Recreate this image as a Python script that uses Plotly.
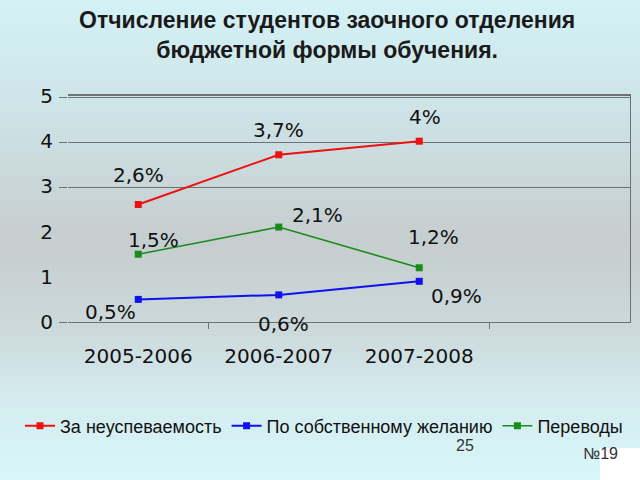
import plotly.graph_objects as go

categories = ["2005-2006", "2006-2007", "2007-2008"]
series_names = ["За неуспеваемость", "По собственному желанию", "Переводы"]
fail_vals = [2.6, 3.7, 4.0]
wish_vals = [0.5, 0.6, 0.9]
transfer_vals = [1.5, 2.1, 1.2]
fail_labels = ["2,6%", "3,7%", "4%"]
wish_labels = ["0,5%", "0,6%", "0,9%"]
transfer_labels = ["1,5%", "2,1%", "1,2%"]
y_ticks = [0, 1, 2, 3, 4, 5]

# label placement offsets (px) -- style only
fail_off = [(0, 29), (0, 25), (6, 24)]
wish_off = [(-28, -13), (5, -29), (37, -15)]
transfer_off = [(15, 14), (39, 12), (14, 31)]

colors = ["#ee1111", "#1111ee", "#1a8a1a"]

L, R, T, B = 68, 630, 96, 322
W, H = 640, 480
PH = B - T

def py2paper(py):
    return (B - py) / PH

def px2paper(px):
    return (px - L) / (R - L)

xs = list(range(len(categories)))

fig = go.Figure()
for name, vals, col, lw in zip(series_names, [fail_vals, wish_vals, transfer_vals], colors, [2, 2, 1.6]):
    fig.add_trace(go.Scatter(
        x=xs, y=vals, name=name, mode="lines+markers",
        line=dict(color=col, width=lw),
        marker=dict(symbol="square", size=7, color=col),
    ))

# helper axes traces (invisible)
fig.add_trace(go.Scatter(x=[0], y=[0], yaxis="y2", showlegend=False, hoverinfo="skip",
                         mode="markers", marker=dict(opacity=0)))
fig.add_trace(go.Scatter(x=[0], y=[0], xaxis="x2", yaxis="y3", showlegend=False, hoverinfo="skip",
                         mode="markers", marker=dict(opacity=0)))

lab_font = dict(family="DejaVu Sans", size=20, color="#111111")
for vals, labels, offs in [(fail_vals, fail_labels, fail_off),
                           (wish_vals, wish_labels, wish_off),
                           (transfer_vals, transfer_labels, transfer_off)]:
    for x, v, t, (dx, dy) in zip(xs, vals, labels, offs):
        fig.add_annotation(x=x, y=v, text=t, showarrow=False, xshift=dx, yshift=dy,
                           font=lab_font, xanchor="center", yanchor="middle")

# background gradient bands
stops = [(0, (212, 241, 245)), (100, (206, 229, 233)), (240, (198, 205, 206)),
         (330, (204, 217, 219)), (400, (212, 236, 239)), (480, (216, 246, 248))]

def col_at(py):
    for (p0, c0), (p1, c1) in zip(stops[:-1], stops[1:]):
        if p0 <= py <= p1:
            t = (py - p0) / (p1 - p0)
            return "rgb(%d,%d,%d)" % tuple(round(a + (b - a) * t) for a, b in zip(c0, c1))
    return "rgb(%d,%d,%d)" % stops[-1][1]

step = 8
for py in range(0, H, step):
    fig.add_shape(type="rect", xref="paper", yref="paper",
                  x0=px2paper(-5), x1=px2paper(W + 5),
                  y0=py2paper(py + step + 0.5), y1=py2paper(py),
                  fillcolor=col_at(py + step / 2), line=dict(width=0), layer="below")

# №19 box
fig.add_shape(type="rect", xref="paper", yref="paper",
              x0=px2paper(600), x1=px2paper(W + 5), y0=py2paper(H + 5), y1=py2paper(448),
              fillcolor="white", line=dict(width=0), layer="below")
fig.add_annotation(xref="paper", yref="paper", x=px2paper(620), y=py2paper(464),
                   text="№19", showarrow=False, font=dict(family="Liberation Sans", size=16, color="#333333"))
fig.add_annotation(xref="paper", yref="paper", x=px2paper(476), y=py2paper(456),
                   text="25", showarrow=False, font=dict(family="Liberation Sans", size=16, color="#333333"))

# title
fig.add_annotation(xref="paper", yref="paper", x=px2paper(327), y=py2paper(35),
                   text="<b>Отчисление студентов заочного отделения<br>бюджетной формы обучения.</b>",
                   showarrow=False, yanchor="middle",
                   font=dict(family="Liberation Sans", size=23, color="#1a1a1a"))

grid_col = "#6b7373"
fig.update_layout(
    width=W, height=H,
    margin=dict(l=L, r=W - R, t=T, b=H - B, pad=0),
    paper_bgcolor="rgb(214,240,243)",
    plot_bgcolor="rgba(0,0,0,0)",
    showlegend=True,
    legend=dict(orientation="h", xref="paper", x=px2paper(20), xanchor="left",
                yref="paper", y=py2paper(426), yanchor="middle",
                font=dict(family="Liberation Sans", size=18, color="#111111"),
                bgcolor="rgba(0,0,0,0)", itemwidth=30, tracegroupgap=0),
    xaxis=dict(range=[-0.5, 3.5], tickmode="array", tickvals=xs, ticktext=categories,
               showgrid=False, zeroline=False, showline=True,
               linecolor=grid_col, linewidth=1,
               ticks="", ticklabelstandoff=16,
               tickfont=dict(family="DejaVu Sans", size=20, color="#111111"),
               minor=dict(tickmode="array", tickvals=[0.5, 2.5], ticks="outside", ticklen=6,
                          tickcolor=grid_col, showgrid=False)),
    xaxis2=dict(range=[-0.5, 3.5], overlaying="x", side="top", showgrid=False, showticklabels=False,
                ticks="", zeroline=False, showline=True, linecolor=grid_col, linewidth=1.5),
    yaxis=dict(range=[0, 5], tickmode="array", tickvals=y_ticks, showgrid=False, zeroline=False,
               showline=False, ticks="", ticklabelstandoff=14,
               tickfont=dict(family="DejaVu Sans", size=20, color="#111111")),
    yaxis2=dict(range=[0, 5.03], overlaying="y", side="left", tickmode="array", tickvals=[0, 3, 4, 5],
                showgrid=True, gridcolor=grid_col, gridwidth=1, ticks="outside", ticklen=8,
                tickcolor=grid_col, showticklabels=False, zeroline=False, showline=False),
    yaxis3=dict(range=[0, 5], overlaying="y", side="right", showgrid=False, showticklabels=False,
                ticks="", zeroline=False, showline=True, linecolor=grid_col, linewidth=1),
)

fig.write_html("out.html")
